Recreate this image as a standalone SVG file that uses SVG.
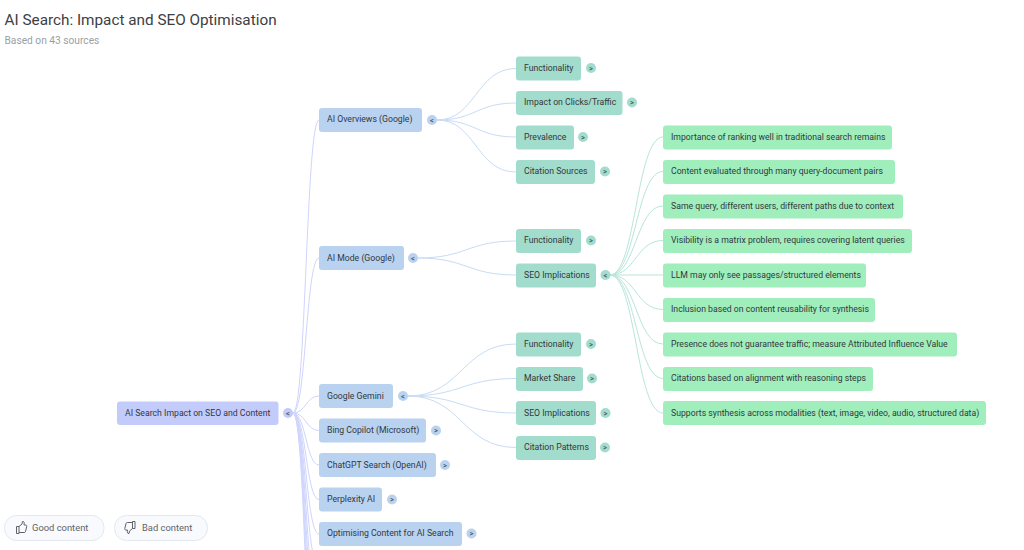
<svg xmlns="http://www.w3.org/2000/svg" width="1024" height="550" viewBox="0 0 1024 550">
<style>
text{font-family:Roboto,"Liberation Sans",sans-serif}
.t{font-size:8.7px;fill:#33383c;dominant-baseline:central}
.g{font-size:7.5px;font-weight:500;fill:#4a5458;text-anchor:middle;dominant-baseline:central}
.r{fill:#c3cbfb}.b{fill:#b9d2f0}.s{fill:#a2dccd}.m{fill:#9feebc}
.c{fill:none;stroke-width:1}
.cr{stroke:#cfd5fd}.cb{stroke:#c8dcf5}.cs{stroke:#b8e6da}
.btn{fill:#f8fafe;stroke:#e3e8f0}
.bt{font-size:9.4px;fill:#5f6368;dominant-baseline:central}
.i{fill:none;stroke:#5f6368;stroke-width:1;stroke-linejoin:round}
</style>
<rect width="1024" height="550" fill="#fff"/>
<text x="4.500" y="24.500" font-size="15.3" fill="#3c4043">AI Search: Impact and SEO Optimisation</text>
<text x="4.500" y="44" font-size="10.2" fill="#9aa0a6">Based on 43 sources</text>
<g id="connectors">
<path class="c cr" d="M293 413C306 413 306 120 319 120M293 413C306 413 306 258 319 258M293 413C306 413 306 396 319 396M293 413C306 413 306 430.500 319 430.500M293 413C306 413 306 465 319 465M293 413C306 413 306 499.500 319 499.500M293 413C306 413 306 534 319 534M293 413C306 413 306 568 319 568M293 413C306 413 306 603 319 603M293 413C306 413 306 637 319 637M293 413C306 413 306 672 319 672M293 413C306 413 306 706 319 706M293 413C306 413 306 741 319 741"/>
<path class="c cb" d="M437 120C476 120 476 68.500 516 68.500M437 120C476 120 476 103 516 103M437 120C476 120 476 137 516 137M437 120C476 120 476 172 516 172M418 258C467 258 467 241 516 241M418 258C467 258 467 275 516 275M408 396C462 396 462 344 516 344M408 396C462 396 462 378.500 516 378.500M408 396C462 396 462 413 516 413M408 396C462 396 462 447.500 516 447.500"/>
<path class="c cs" d="M610 275C636 275 636 137 663 137M610 275C636 275 636 171.500 663 171.500M610 275C636 275 636 206 663 206M610 275C636 275 636 240.500 663 240.500M610 275L663 275M610 275C636 275 636 309.500 663 309.500M610 275C636 275 636 344 663 344M610 275C636 275 636 378.500 663 378.500M610 275C636 275 636 413 663 413"/>
</g>
<g id="root"><rect class="r" x="117" y="401.500" width="161.500" height="23.500" rx="3"/><text class="t" x="125" y="412.500">AI Search Impact on SEO and Content</text><circle class="r" cx="288" cy="413" r="5"/><text class="g" x="288" y="413">&lt;</text></g>
<g id="n-overviews"><rect class="b" x="319" y="108" width="103" height="24" rx="3"/><text class="t" x="327" y="119">AI Overviews (Google)</text><circle class="b" cx="432" cy="120" r="5"/><text class="g" x="432" y="120">&lt;</text></g>
<g id="n-mode"><rect class="b" x="319" y="246" width="85" height="24" rx="3"/><text class="t" x="327" y="257.500">AI Mode (Google)</text><circle class="b" cx="413" cy="258" r="5"/><text class="g" x="413" y="258">&lt;</text></g>
<g id="n-gemini"><rect class="b" x="319" y="384" width="74" height="24" rx="3"/><text class="t" x="327" y="395.500">Google Gemini</text><circle class="b" cx="403" cy="396" r="5"/><text class="g" x="403" y="396">&lt;</text></g>
<g id="n-bing"><rect class="b" x="319" y="418.500" width="107" height="24" rx="3"/><text class="t" x="327" y="430">Bing Copilot (Microsoft)</text><circle class="b" cx="436" cy="430.500" r="5"/><text class="g" x="436" y="430.500">&gt;</text></g>
<g id="n-chatgpt"><rect class="b" x="319" y="453" width="117" height="24" rx="3"/><text class="t" x="327" y="464.500">ChatGPT Search (OpenAI)</text><circle class="b" cx="445" cy="465" r="5"/><text class="g" x="445" y="465">&gt;</text></g>
<g id="n-perplexity"><rect class="b" x="319" y="487.500" width="63" height="24" rx="3"/><text class="t" x="327" y="499">Perplexity AI</text><circle class="b" cx="392" cy="499.500" r="5"/><text class="g" x="392" y="499.500">&gt;</text></g>
<g id="n-optimising"><rect class="b" x="319" y="522" width="143" height="24" rx="3"/><text class="t" x="327" y="533">Optimising Content for AI Search</text><circle class="b" cx="471.500" cy="533.500" r="5"/><text class="g" x="471.500" y="533.500">&gt;</text></g>
<g id="o-func"><rect class="s" x="516" y="56.500" width="65" height="24" rx="3"/><text class="t" x="524" y="67.500">Functionality</text><circle class="s" cx="591" cy="68" r="5"/><text class="g" x="591" y="68">&gt;</text></g>
<g id="o-impact"><rect class="s" x="516" y="91" width="106.500" height="24" rx="3"/><text class="t" x="524" y="102">Impact on Clicks/Traffic</text><circle class="s" cx="632" cy="102.500" r="5"/><text class="g" x="632" y="102.500">&gt;</text></g>
<g id="o-prev"><rect class="s" x="516" y="125.500" width="58" height="24" rx="3"/><text class="t" x="524" y="136.500">Prevalence</text><circle class="s" cx="583" cy="137" r="5"/><text class="g" x="583" y="137">&gt;</text></g>
<g id="o-cite"><rect class="s" x="516" y="160" width="79" height="24" rx="3"/><text class="t" x="524" y="171">Citation Sources</text><circle class="s" cx="605" cy="171.500" r="5"/><text class="g" x="605" y="171.500">&gt;</text></g>
<g id="m-func"><rect class="s" x="516" y="229" width="65" height="24" rx="3"/><text class="t" x="524" y="240">Functionality</text><circle class="s" cx="591" cy="240.500" r="5"/><text class="g" x="591" y="240.500">&gt;</text></g>
<g id="m-seo"><rect class="s" x="516" y="263.500" width="80" height="24" rx="3"/><text class="t" x="524" y="274.500">SEO Implications</text><circle class="s" cx="605.500" cy="275" r="5"/><text class="g" x="605.500" y="275">&lt;</text></g>
<g id="g-func"><rect class="s" x="516" y="332.500" width="65" height="24" rx="3"/><text class="t" x="524" y="343.500">Functionality</text><circle class="s" cx="591" cy="344" r="5"/><text class="g" x="591" y="344">&gt;</text></g>
<g id="g-market"><rect class="s" x="516" y="367" width="67" height="24" rx="3"/><text class="t" x="524" y="378">Market Share</text><circle class="s" cx="592" cy="378.500" r="5"/><text class="g" x="592" y="378.500">&gt;</text></g>
<g id="g-seo"><rect class="s" x="516" y="401" width="80" height="24" rx="3"/><text class="t" x="524" y="412.500">SEO Implications</text><circle class="s" cx="605.500" cy="413" r="5"/><text class="g" x="605.500" y="413">&gt;</text></g>
<g id="g-cite"><rect class="s" x="516" y="436" width="80" height="24" rx="3"/><text class="t" x="524" y="447">Citation Patterns</text><circle class="s" cx="605" cy="447.500" r="5"/><text class="g" x="605" y="447.500">&gt;</text></g>
<g id="l1"><rect class="m" x="663" y="125.500" width="229" height="24" rx="3"/><text class="t" x="671" y="136.500">Importance of ranking well in traditional search remains</text></g>
<g id="l2"><rect class="m" x="663" y="160" width="232" height="24" rx="3"/><text class="t" x="671" y="171">Content evaluated through many query-document pairs</text></g>
<g id="l3"><rect class="m" x="663" y="194.500" width="240" height="24" rx="3"/><text class="t" x="671" y="205.500">Same query, different users, different paths due to context</text></g>
<g id="l4"><rect class="m" x="663" y="229" width="249" height="24" rx="3"/><text class="t" x="671" y="240">Visibility is a matrix problem, requires covering latent queries</text></g>
<g id="l5"><rect class="m" x="663" y="263.500" width="203" height="24" rx="3"/><text class="t" x="671" y="274.500">LLM may only see passages/structured elements</text></g>
<g id="l6"><rect class="m" x="663" y="298" width="212" height="24" rx="3"/><text class="t" x="671" y="309">Inclusion based on content reusability for synthesis</text></g>
<g id="l7"><rect class="m" x="663" y="332.500" width="294" height="24" rx="3"/><text class="t" x="671" y="343.500">Presence does not guarantee traffic; measure Attributed Influence Value</text></g>
<g id="l8"><rect class="m" x="663" y="367" width="210" height="24" rx="3"/><text class="t" x="671" y="378">Citations based on alignment with reasoning steps</text></g>
<g id="l9"><rect class="m" x="663" y="401" width="323" height="24" rx="3"/><text class="t" x="671" y="412.500">Supports synthesis across modalities (text, image, video, audio, structured data)</text></g>
<g id="good"><rect class="btn" x="4.500" y="515.500" width="99.500" height="25" rx="12"/><path class="i" d="M16.500 526.500h2.500v7h-2.500zM19 526.500l3-2.500 .5-2.500c1.500-.5 2 1 1.500 3.500h1.500c1 0 1.500.7 1.200 1.500l-1.200 5c-.2.7-.6 1-1.300 1H19"/><text class="bt" x="32" y="527.500">Good content</text></g>
<g id="bad"><rect class="btn" x="114.500" y="515.500" width="93" height="25" rx="12"/><path class="i" d="M135 528.500h-2.500v-7h2.500zM132.500 528.500l-3 2.500-.5 2.500c-1.500.5-2-1-1.500-3.500H126c-1 0-1.500-.7-1.200-1.500l1.200-5c.2-.7.6-1 1.300-1h5.200"/><text class="bt" x="142" y="527.500">Bad content</text></g>
</svg>
